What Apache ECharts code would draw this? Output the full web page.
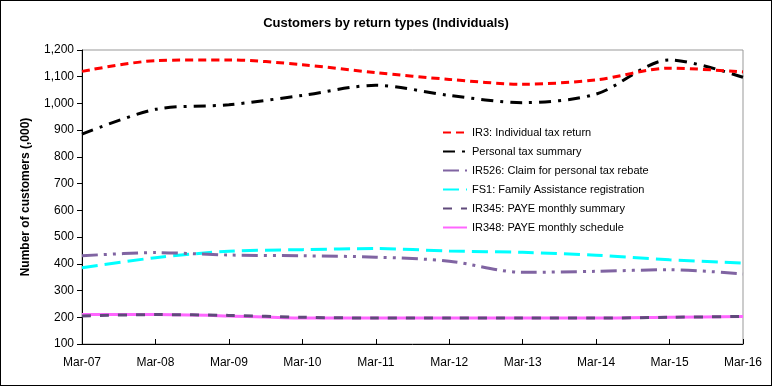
<!DOCTYPE html>
<html><head><meta charset="utf-8">
<script src="https://cdn.jsdelivr.net/npm/echarts@6/dist/echarts.min.js"></script>
<style>html,body{margin:0;padding:0;background:#fff}#c{width:772px;height:386px;box-sizing:border-box;border:1px solid #000}</style>
</head><body><div id="c"></div>
<script>
const categories = ['Mar-07','Mar-08','Mar-09','Mar-10','Mar-11','Mar-12','Mar-13','Mar-14','Mar-15','Mar-16'];
const ir3 = [1120, 1160, 1163, 1145, 1115, 1090, 1072, 1088, 1132, 1118];
const personalSummary = [885, 978, 995, 1030, 1068, 1030, 1003, 1035, 1163, 1098];
const ir526 = [430, 442, 433, 430, 425, 410, 368, 372, 378, 362];
const fs1 = [385, 423, 447, 453, 457, 448, 443, 432, 415, 403];
const ir345 = [205, 210, 207, 200, 197, 197, 197, 197, 200, 203];
const ir348 = [210, 210, 205, 197, 197, 197, 197, 197, 200, 203];
const names = ['IR3: Individual tax return','Personal tax summary','IR526: Claim for personal tax rebate','FS1: Family Assistance registration','IR345: PAYE monthly summary','IR348: PAYE monthly schedule'];

const chart = echarts.init(document.getElementById('c'));
function s(name, data, color, dash, z){
  return {name, type:'line', data, smooth:0.3, symbol:'none', z:z,
    lineStyle:{color, width:3, type:dash}, itemStyle:{color}};
}
chart.setOption({
  animation:false,
  textStyle:{fontFamily:'Liberation Sans, Arial, sans-serif'},
  title:{text:'Customers by return types (Individuals)', left:'center', top:11,
    textStyle:{fontSize:13, fontWeight:'bold', color:'#000'}},
  grid:{left:81, right:28, top:49, bottom:41, show:true, borderColor:'#999', borderWidth:1, backgroundColor:'transparent'},
  legend:{orient:'vertical', left:436, top:121, itemWidth:24, itemHeight:10, itemGap:8,
    itemStyle:{opacity:0},
    textStyle:{fontSize:11, color:'#000'}, data:names},
  xAxis:{type:'category', data:categories, boundaryGap:false,
    axisLine:{lineStyle:{color:'#000'}}, axisTick:{show:true, inside:true, length:5, lineStyle:{color:'#000'}},
    axisLabel:{fontSize:12, color:'#000', margin:13}},
  yAxis:{type:'value', min:100, max:1200, interval:100,
    name:'Number of customers (,000)', nameLocation:'middle', nameGap:50, nameRotate:90,
    nameTextStyle:{fontSize:12, fontWeight:'bold', color:'#000'},
    axisLine:{show:true, lineStyle:{color:'#000'}}, axisTick:{show:true, length:5, lineStyle:{color:'#000'}},
    splitLine:{show:false},
    axisLabel:{fontSize:12, color:'#000', formatter:v=>v.toLocaleString('en-US')}},
  series:[
    s(names[0], ir3, '#FF0000', [8,5], 6),
    s(names[1], personalSummary, '#000000', [12,7,3,7], 5),
    s(names[2], ir526, '#8064A2', [16,6,3,6,3,6], 4),
    s(names[3], fs1, '#00FFFF', [16,7], 3),
    s(names[4], ir345, '#604A7B', [9,9], 2),
    s(names[5], ir348, '#FF66FF', 'solid', 1)
  ]
});
</script></body></html>
